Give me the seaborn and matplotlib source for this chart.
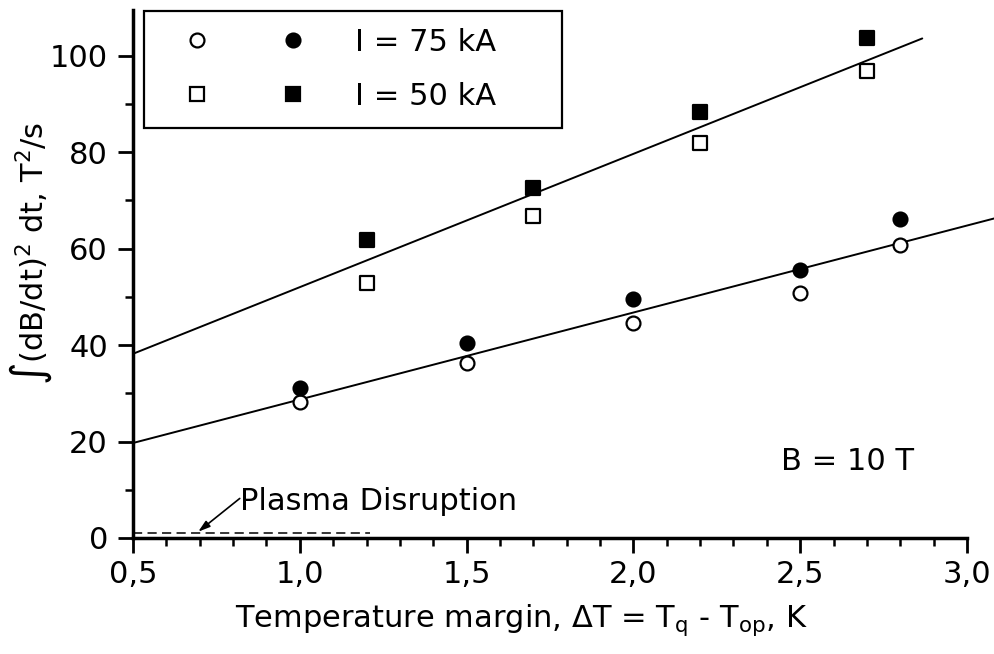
import matplotlib
matplotlib.use("Agg")
import matplotlib.pyplot as plt
from matplotlib.lines import Line2D
from matplotlib.legend_handler import HandlerTuple
from matplotlib.ticker import MultipleLocator
import seaborn as sns

# Temperature margin (K) vs integral of (dB/dt)^2 (T^2/s)
x_75 = [1.0, 1.5, 2.0, 2.5, 2.8]
open_75 = [28.2, 36.3, 44.6, 50.8, 60.7]
filled_75 = [31.2, 40.5, 49.5, 55.6, 66.2]

x_50 = [1.2, 1.7, 2.2, 2.7]
open_50 = [52.9, 66.7, 82.0, 96.9]
filled_50 = [61.7, 72.6, 88.4, 103.6]

# straight-line trends through each current group (end points)
fit_75_x = [0.5, 3.1]
fit_75_y = [19.7, 66.6]
fit_50_x = [0.5, 2.866]
fit_50_y = [38.2, 103.6]

# plasma disruption level
disruption_x = [0.5, 1.21]
disruption_y = [1.1, 1.1]

series_labels = ["I = 75 kA", "I = 50 kA"]
x_ticks = [0.5, 1.0, 1.5, 2.0, 2.5, 3.0]
x_tick_labels = ["0,5", "1,0", "1,5", "2,0", "2,5", "3,0"]
y_ticks = [0, 20, 40, 60, 80, 100]

FS = 22

sns.set_style("ticks")
plt.rcParams["font.family"] = ["DejaVu Sans"]
plt.rcParams["mathtext.fontset"] = "dejavusans"
plt.rcParams["axes.edgecolor"] = "black"
plt.rcParams["xtick.color"] = "black"
plt.rcParams["ytick.color"] = "black"
plt.rcParams["text.color"] = "black"
plt.rcParams["axes.labelcolor"] = "black"

fig = plt.figure(figsize=(9.94, 6.54), dpi=100)
ax = fig.add_axes([0.1338, 0.1774, 0.839, 0.8073])

# trend lines
sns.lineplot(x=fit_50_x, y=fit_50_y, color="black", linewidth=1.4, ax=ax, clip_on=False)
sns.lineplot(x=fit_75_x, y=fit_75_y, color="black", linewidth=1.4, ax=ax, clip_on=False)
sns.lineplot(x=disruption_x, y=disruption_y, color="black", linewidth=1.1,
             linestyle=(0, (6, 3.5)), ax=ax)

# measured points
ms_c, ms_s, ew = 100, 92, 1.6
sns.scatterplot(x=x_75, y=open_75, marker="o", s=ms_c, color="white",
                edgecolor="black", linewidth=ew, ax=ax, zorder=4)
sns.scatterplot(x=x_75, y=filled_75, marker="o", s=ms_c, color="black",
                edgecolor="black", linewidth=ew, ax=ax, zorder=4)
sns.scatterplot(x=x_50, y=open_50, marker="s", s=ms_s, color="white",
                edgecolor="black", linewidth=ew, ax=ax, zorder=4)
sns.scatterplot(x=x_50, y=filled_50, marker="s", s=ms_s, color="black",
                edgecolor="black", linewidth=ew, ax=ax, zorder=4)

# axes
ax.set_xlim(0.5, 3.0)
ax.set_ylim(0, 109.5)
ax.set_xticks(x_ticks)
ax.set_xticklabels(x_tick_labels)
ax.set_yticks(y_ticks)
ax.xaxis.set_minor_locator(MultipleLocator(0.1))
ax.yaxis.set_minor_locator(MultipleLocator(10))
ax.tick_params(which="major", direction="out", length=11, width=2, labelsize=FS)
ax.tick_params(which="minor", direction="out", length=6, width=1.8)
ax.tick_params(axis="x", which="major", pad=5)
ax.tick_params(axis="y", which="major", pad=7)
sns.despine(ax=ax)
for side in ["left", "bottom"]:
    ax.spines[side].set_linewidth(2.5)

ax.set_xlabel("Temperature margin, \u0394T = T$_\\mathregular{q}$ - T$_\\mathregular{op}$, K",
              fontsize=FS)
ax.set_ylabel("\u222b(dB/dt)$^\\mathregular{2}$ dt, T$^\\mathregular{2}$/s", fontsize=FS)
ax.xaxis.set_label_coords(0.466, -0.121)
ax.yaxis.set_label_coords(-0.0947, 0.54)

# annotations
ax.annotate("", xy=(0.6955, 1.3), xytext=(0.82, 8.2),
            arrowprops=dict(arrowstyle="-|>,head_length=0.7,head_width=0.22",
                            color="black", linewidth=1.2, shrinkA=0, shrinkB=0))
ax.text(0.822, 5.9, "Plasma Disruption", fontsize=FS, ha="left", va="baseline")
ax.text(2.443, 14.1, "B = 10 T", fontsize=FS, ha="left", va="baseline")

# legend: open and filled marker share one label
h_oc = Line2D([], [], marker="o", ls="none", markersize=ms_c ** 0.5,
              mfc="white", mec="black", mew=ew)
h_fc = Line2D([], [], marker="o", ls="none", markersize=ms_c ** 0.5,
              mfc="black", mec="black", mew=ew)
h_os = Line2D([], [], marker="s", ls="none", markersize=ms_s ** 0.5,
              mfc="white", mec="black", mew=ew)
h_fs = Line2D([], [], marker="s", ls="none", markersize=ms_s ** 0.5,
              mfc="black", mec="black", mew=ew)
leg = ax.legend([(h_oc, h_fc), (h_os, h_fs)], series_labels,
                handler_map={tuple: HandlerTuple(ndivide=None, pad=0.785)},
                loc="upper left", bbox_to_anchor=(0.0132, 0.0, 0.501, 0.998),
                mode="expand", borderaxespad=0, borderpad=0.56,
                handlelength=5.5, handletextpad=0.85, labelspacing=0.8,
                frameon=True, fancybox=False, edgecolor="black", framealpha=1,
                fontsize=FS)
leg.get_frame().set_linewidth(1.6)

fig.savefig("out.png", dpi=100)
